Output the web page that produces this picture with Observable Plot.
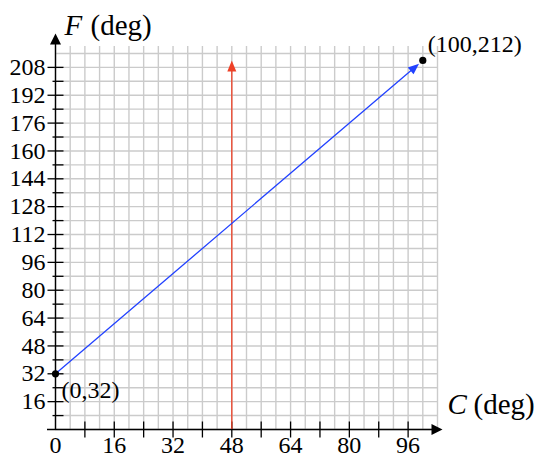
<!DOCTYPE html>
<html><head><meta charset="utf-8">
<script src="https://cdn.jsdelivr.net/npm/d3@7"></script>
<script src="https://cdn.jsdelivr.net/npm/@observablehq/plot@0.6"></script>
<style>body{margin:0;background:#fff}</style>
</head><body><div id="chart"></div>
<script>
// ---- data ----
const xTickLabels = [0, 16, 32, 48, 64, 80, 96];
const yTickLabels = [16, 32, 48, 64, 80, 96, 112, 128, 144, 160, 176, 192, 208];
const points = [
  {c: 0, f: 32, label: "(0,32)"},
  {c: 100, f: 212, label: "(100,212)"}
];
const conversionLine = [{c1: 0, f1: 32, c2: 100, f2: 212}];
const markerLine = [{c: 48, f1: 0, f2: 212}];
const xDomain = [0, 104];
const yDomain = [0, 220];
const xAxisLabel = ["C", "(deg)"];
const yAxisLabel = ["F", "(deg)"];

// ---- layout ----
const W = 550, H = 462, ML = 55, MR = 113, MT = 46, MB = 33;
const kx = (W - ML - MR) / (xDomain[1] - xDomain[0]);
const ky = (H - MT - MB) / (yDomain[1] - yDomain[0]);
const font = "Liberation Serif";

const xGrid = d3.range(xDomain[0], xDomain[1] + 1, 4);
const yGrid = d3.range(yDomain[0], yDomain[1] - 3, 8);
const xTicks = d3.range(8, 97, 8);
const yTicks = d3.range(8, 209, 8);

function head(L, Wd, off = 0) {
  return {draw(ctx) {
    ctx.moveTo(0, off);
    ctx.lineTo(-Wd / 2, off + L);
    ctx.lineTo(Wd / 2, off + L);
    ctx.closePath();
  }};
}
const vTick = {draw(ctx) { ctx.moveTo(0, -8); ctx.lineTo(0, 8); }};
const hTickMajor = {draw(ctx) { ctx.moveTo(-8, 0); ctx.lineTo(8, 0); }};
const hTickMinor = {draw(ctx) { ctx.moveTo(-3, 0); ctx.lineTo(8, 0); }};

const L0 = conversionLine[0];
const blueAngle = Math.atan2((L0.c2 - L0.c1) * kx, (L0.f2 - L0.f1) * ky) * 180 / Math.PI;
const yTip = yDomain[1] + 13 / ky;
const xTip = xDomain[1] + 5 / kx;
const xStart = -8 / kx;

const blue = "#2242ff", red = "#ee4026", grid = "#cbcbcb";
const fs = 24, fsLabel = 29;

const plot = Plot.plot({
  width: W, height: H,
  marginLeft: ML, marginRight: MR, marginTop: MT, marginBottom: MB,
  x: {domain: xDomain, axis: null},
  y: {domain: yDomain, axis: null},
  style: {fontFamily: font, background: "#fff"},
  marks: [
    Plot.ruleX(xGrid, {x: d => d, y1: yDomain[0], y2: yDomain[1], stroke: grid, strokeWidth: 1.4}),
    Plot.ruleY(yGrid, {y: d => d, x1: xDomain[0], x2: xDomain[1], stroke: grid, strokeWidth: 1.4}),
    // axes
    Plot.ruleY([0], {x1: xStart, x2: xTip - 6 / kx, stroke: "black", strokeWidth: 1.4}),
    Plot.ruleX([0], {y1: 0, y2: yTip - 6 / ky, stroke: "black", strokeWidth: 1.4}),
    Plot.dot([0], {x: xTip, y: 0, symbol: head(11, 11), rotate: 90, fill: "black", stroke: "none", r: 5}),
    Plot.dot([0], {x: 0, y: yTip, symbol: head(11, 11), rotate: 0, fill: "black", stroke: "none", r: 5}),
    Plot.dot(xTicks, {x: d => d, y: 0, symbol: vTick, fill: "none", stroke: "black", strokeWidth: 1.3}),
    Plot.dot(yTicks.filter(d => d % 16 === 0), {x: 0, y: d => d, symbol: hTickMajor, fill: "none", stroke: "black", strokeWidth: 1.3}),
    Plot.dot(yTicks.filter(d => d % 16 !== 0), {x: 0, y: d => d, symbol: hTickMinor, fill: "none", stroke: "black", strokeWidth: 1.3}),
    // tick labels
    Plot.text(xTickLabels, {x: d => d, y: 0, text: d => String(d), dy: 16, lineAnchor: "middle", fontSize: fs, fill: "black"}),
    Plot.text(yTickLabels, {x: 0, y: d => d, text: d => String(d), dx: -10, textAnchor: "end", lineAnchor: "middle", fontSize: fs, fill: "black"}),
    // axis labels
    Plot.text([yAxisLabel[0]], {frameAnchor: "top-left", dx: 9, dy: -21, textAnchor: "start", lineAnchor: "middle", fontSize: fsLabel, fontStyle: "italic", fill: "black"}),
    Plot.text([yAxisLabel[1]], {frameAnchor: "top-left", dx: 35, dy: -21, textAnchor: "start", lineAnchor: "middle", fontSize: fsLabel, fill: "black"}),
    Plot.text([xAxisLabel[0]], {frameAnchor: "bottom-right", dx: 10, dy: -25, textAnchor: "start", lineAnchor: "middle", fontSize: fsLabel, fontStyle: "italic", fill: "black"}),
    Plot.text([xAxisLabel[1]], {frameAnchor: "bottom-right", dx: 36, dy: -25, textAnchor: "start", lineAnchor: "middle", fontSize: fsLabel, fill: "black"}),
    // red vertical arrow
    Plot.ruleX(markerLine, {x: "c", y1: "f1", y2: d => d.f2 - 8 / ky, stroke: red, strokeWidth: 1.3}),
    Plot.dot(markerLine, {x: "c", y: "f2", symbol: head(11, 9), rotate: 0, fill: red, stroke: "none"}),
    // blue conversion line
    Plot.arrow(conversionLine, {x1: "c1", y1: "f1", x2: "c2", y2: "f2", headLength: 0, insetEnd: 12, stroke: blue, strokeWidth: 1.3}),
    Plot.dot(conversionLine, {x: "c2", y: "f2", symbol: head(11, 9, 5), rotate: blueAngle, fill: blue, stroke: "none"}),
    // points
    Plot.dot(points, {x: "c", y: "f", r: 3.6, fill: "black", stroke: "none"}),
    Plot.text(points.filter(d => d.c === 0), {x: "c", y: "f", text: "label", dx: 6, dy: 17, textAnchor: "start", lineAnchor: "middle", fontSize: fs, fill: "black"}),
    Plot.text(points.filter(d => d.c !== 0), {x: "c", y: "f", text: "label", dx: 5, dy: -16, textAnchor: "start", lineAnchor: "middle", fontSize: fs, fill: "black"})
  ]
});
document.getElementById("chart").appendChild(plot);
</script>
</body></html>
